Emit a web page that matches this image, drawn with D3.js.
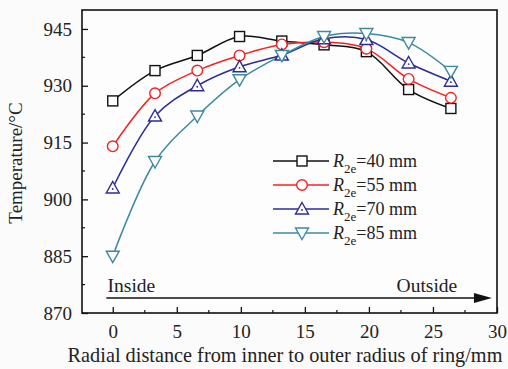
<!DOCTYPE html>
<html>
<head>
<meta charset="utf-8">
<script src="https://cdn.jsdelivr.net/npm/d3@7/dist/d3.min.js"></script>
<style>
  html, body { margin: 0; padding: 0; background: #fbfbfb; }
  svg text { font-family: "Liberation Serif", "DejaVu Serif", serif; }
</style>
</head>
<body>
<svg id="chart" width="508" height="369"></svg>
<script>
// Radial positions (mm) where the temperature was sampled
const positions = [0, 3.3, 6.6, 9.9, 13.2, 16.5, 19.8, 23.1, 26.4];

// Temperature (°C) for each outer radius R2e
const temp40 = [926, 934, 938, 943, 941.8, 940.8, 939, 929, 924];
const temp55 = [914, 928, 934, 938, 940.9, 941.5, 939.8, 931.8, 926.8];
const temp70 = [903, 922, 930, 935, 938.1, 942.4, 942.2, 936, 931.2];
const temp85 = [885, 910, 922, 931.6, 938, 943, 943.8, 941.4, 933.8];

const seriesNames = ["40", "55", "70", "85"];
const seriesColors = ["#111111", "#f52222", "#2c2c96", "#3b8aa0"];
const seriesMarkers = ["square", "circle", "triangleUp", "triangleDown"];

const xTicks = [0, 5, 10, 15, 20, 25, 30];
const yTicks = [870, 885, 900, 915, 930, 945];

const series = [temp40, temp55, temp70, temp85].map((vals, i) => ({
  name: seriesNames[i], color: seriesColors[i], marker: seriesMarkers[i],
  points: vals.map((v, j) => ({ x: positions[j], y: v }))
}));

const svg = d3.select("#chart");
const margin = { left: 82, right: 11, top: 10, bottom: 56 };
const W = 508, H = 369;
const x = d3.scaleLinear().domain([-2.4, 30]).range([margin.left, W - margin.right]);
const y = d3.scaleLinear().domain([870, 950]).range([H - margin.bottom, margin.top]);

// Plot background
svg.append("rect")
  .attr("x", margin.left).attr("y", margin.top)
  .attr("width", W - margin.left - margin.right)
  .attr("height", H - margin.top - margin.bottom)
  .attr("fill", "#fdfdfd");

// Axes with inward ticks
const xAxis = d3.axisBottom(x).tickValues(xTicks).tickSize(-6).tickPadding(12).tickSizeOuter(0);
const yAxis = d3.axisLeft(y).tickValues(yTicks).tickSize(-6).tickPadding(10).tickSizeOuter(0);

const gx = svg.append("g").attr("transform", `translate(0,${H - margin.bottom})`).call(xAxis);
const gy = svg.append("g").attr("transform", `translate(${margin.left},0)`).call(yAxis);
[gx, gy].forEach(g => {
  g.attr("font-family", null);
  g.select(".domain").remove();
  g.selectAll(".tick line").attr("stroke", "#111").attr("stroke-width", 1.3);
  g.selectAll(".tick text").attr("fill", "#222").attr("font-size", 19);
});
gx.selectAll(".tick text").attr("dy", "0.71em");

// Minor ticks
const xMinor = d3.range(2.5, 30, 5);
const yMinor = d3.range(877.5, 950, 15);
svg.append("g").selectAll("line").data(xMinor).join("line")
  .attr("x1", d => x(d)).attr("x2", d => x(d))
  .attr("y1", H - margin.bottom).attr("y2", H - margin.bottom - 3)
  .attr("stroke", "#111").attr("stroke-width", 1.2);
svg.append("g").selectAll("line").data(yMinor).join("line")
  .attr("x1", margin.left).attr("x2", margin.left + 3)
  .attr("y1", d => y(d)).attr("y2", d => y(d))
  .attr("stroke", "#111").attr("stroke-width", 1.2);

// Frame
svg.append("rect")
  .attr("x", margin.left).attr("y", margin.top)
  .attr("width", W - margin.left - margin.right)
  .attr("height", H - margin.top - margin.bottom)
  .attr("fill", "none").attr("stroke", "#111").attr("stroke-width", 1.6);

// Axis titles
svg.append("text")
  .attr("x", 285).attr("y", 362)
  .attr("text-anchor", "middle").attr("font-size", 20.3).attr("fill", "#222")
  .text("Radial distance from inner to outer radius of ring/mm");
svg.append("text")
  .attr("transform", "translate(22,163) rotate(-90)")
  .attr("text-anchor", "middle").attr("font-size", 19).attr("fill", "#222")
  .text("Temperature/°C");

// Inside -> Outside direction arrow
const arrowY = 298;
svg.append("line")
  .attr("x1", x(-0.5)).attr("x2", x(28.6))
  .attr("y1", arrowY).attr("y2", arrowY)
  .attr("stroke", "#111").attr("stroke-width", 1.6);
svg.append("path")
  .attr("d", `M${x(28.2)},${arrowY - 5}L${x(29.6)},${arrowY}L${x(28.2)},${arrowY + 5}Z`)
  .attr("fill", "#111");
svg.append("text").attr("x", x(-0.4)).attr("y", arrowY - 6)
  .attr("font-size", 19.5).attr("fill", "#222").text("Inside");
svg.append("text").attr("x", x(26.9)).attr("y", arrowY - 6).attr("text-anchor", "end")
  .attr("font-size", 19.5).attr("fill", "#222").text("Outside");

// Marker shapes
function drawMarker(g, type, cx, cy, color) {
  const s = 5;
  if (type === "square") {
    g.append("rect").attr("x", cx - s).attr("y", cy - s).attr("width", 2 * s).attr("height", 2 * s)
      .attr("fill", "#fff").attr("stroke", color).attr("stroke-width", 1.4);
  } else if (type === "circle") {
    g.append("circle").attr("cx", cx).attr("cy", cy).attr("r", 5.3)
      .attr("fill", "#fff").attr("stroke", color).attr("stroke-width", 1.4);
  } else if (type === "triangleUp") {
    g.append("path").attr("d", `M${cx},${cy - 6.5}L${cx + 6.5},${cy + 5}L${cx - 6.5},${cy + 5}Z`)
      .attr("fill", "#fff").attr("stroke", color).attr("stroke-width", 1.4);
    g.append("circle").attr("cx", cx).attr("cy", cy + 1).attr("r", 0.9).attr("fill", color);
  } else {
    g.append("path").attr("d", `M${cx},${cy + 6.5}L${cx + 6.5},${cy - 5}L${cx - 6.5},${cy - 5}Z`)
      .attr("fill", "#fff").attr("stroke", color).attr("stroke-width", 1.4);
  }
}

const line = d3.line().x(d => x(d.x)).y(d => y(d.y)).curve(d3.curveCatmullRom.alpha(0.5));

series.forEach(s => {
  svg.append("path").datum(s.points).attr("d", line)
    .attr("fill", "none").attr("stroke", s.color).attr("stroke-width", 1.5);
});
series.forEach(s => {
  const g = svg.append("g");
  s.points.forEach(p => drawMarker(g, s.marker, x(p.x), y(p.y), s.color));
});

// Legend
const legend = svg.append("g");
series.forEach((s, i) => {
  const ly = 161 + i * 24;
  legend.append("line").attr("x1", 273).attr("x2", 329).attr("y1", ly).attr("y2", ly)
    .attr("stroke", s.color).attr("stroke-width", 1.5);
  drawMarker(legend, s.marker, 302, ly, s.color);
  const t = legend.append("text").attr("x", 333).attr("y", ly + 6)
    .attr("font-size", 18).attr("fill", "#222");
  t.append("tspan").attr("font-style", "italic").text("R");
  t.append("tspan").attr("font-size", 13).attr("dy", 6).text("2e");
  t.append("tspan").attr("dy", -6).text(`=${s.name} mm`);
});
</script>
</body>
</html>
